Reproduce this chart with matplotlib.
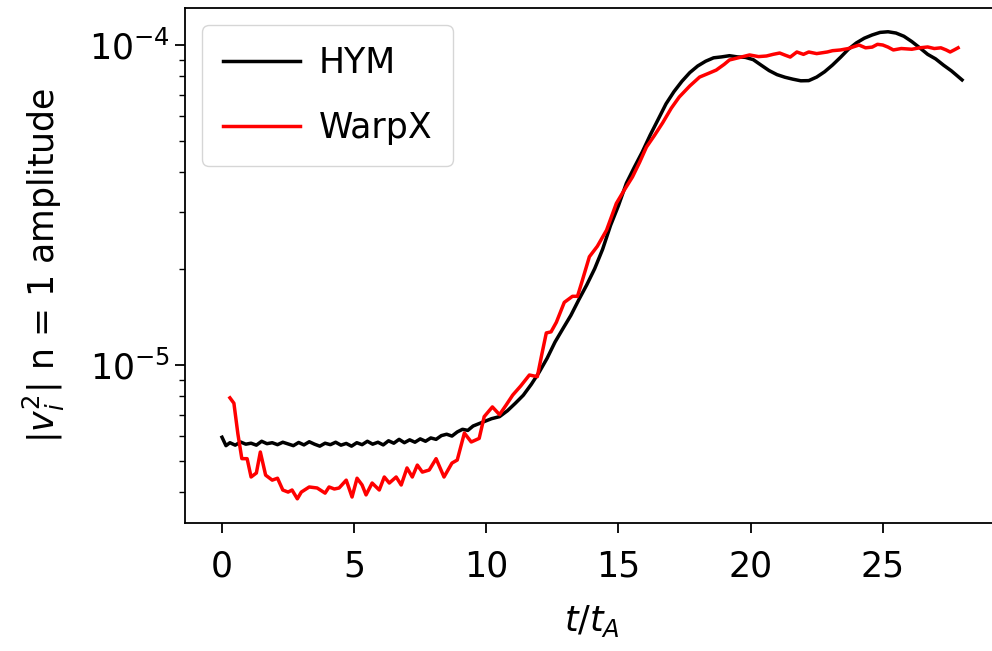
import numpy as np
import matplotlib
matplotlib.use("Agg")
import matplotlib.pyplot as plt

# amplitudes in units of 1e-6
t_hym = [0.0, 0.15, 0.3, 0.5, 0.7, 0.9, 1.1, 1.3, 1.5, 1.7, 1.9, 2.1, 2.3, 2.5, 2.7, 2.9,
         3.1, 3.3, 3.5, 3.7, 3.9, 4.1, 4.3, 4.5, 4.7, 4.9, 5.1, 5.3, 5.5, 5.7, 5.9, 6.1,
         6.3, 6.5, 6.7, 6.9, 7.1, 7.3, 7.5, 7.7, 7.9, 8.1, 8.3, 8.5, 8.7, 8.9, 9.1, 9.3,
         9.5, 9.7, 9.9, 10.2, 10.5, 10.8, 11.1, 11.4, 11.7, 12.0, 12.3, 12.6, 12.9, 13.2,
         13.5, 13.8, 14.1, 14.4, 14.7, 15.0, 15.3, 15.6, 15.9, 16.2, 16.5, 16.8, 17.1,
         17.4, 17.7, 18.0, 18.3, 18.6, 18.9, 19.2, 19.5, 19.8, 20.1, 20.4, 20.7, 21.0,
         21.3, 21.6, 21.9, 22.2, 22.5, 22.8, 23.1, 23.4, 23.7, 24.0, 24.3, 24.6, 24.9,
         25.2, 25.5, 25.8, 26.1, 26.4, 26.7, 27.0, 27.3, 27.6, 28.0]
amp_hym = [5.95, 5.60, 5.72, 5.62, 5.75, 5.66, 5.70, 5.62, 5.78, 5.68, 5.72, 5.64, 5.74,
           5.67, 5.60, 5.73, 5.63, 5.76, 5.66, 5.58, 5.70, 5.64, 5.74, 5.62, 5.69, 5.58,
           5.72, 5.64, 5.78, 5.66, 5.74, 5.63, 5.80, 5.70, 5.86, 5.72, 5.84, 5.74, 5.88,
           5.78, 5.92, 5.86, 6.02, 6.08, 6.00, 6.18, 6.30, 6.25, 6.45, 6.55, 6.65, 6.80,
           6.90, 7.20, 7.60, 8.05, 8.70, 9.50, 10.5, 11.8, 13.0, 14.3, 16.0, 17.8, 20.0,
           23.0, 27.3, 31.5, 37.0, 41.5, 46.3, 52.3, 58.5, 65.5, 71.5, 77.0, 82.0, 86.0,
           89.0, 91.2, 91.8, 92.6, 91.8, 91.5, 90.0, 86.5, 83.2, 80.8, 79.3, 78.2, 77.3,
           77.4, 79.4, 82.5, 86.6, 91.5, 97.0, 101.5, 105.0, 107.5, 109.5, 110.0, 109.0,
           106.5, 102.5, 98.0, 93.5, 90.5, 86.5, 83.0, 77.8]

t_warpx = [0.3, 0.45, 0.6, 0.75, 0.95, 1.1, 1.3, 1.45, 1.65, 1.9, 2.1, 2.3, 2.5, 2.65, 2.85,
           3.0, 3.3, 3.6, 3.9, 4.05, 4.25, 4.43, 4.7, 4.92, 5.11, 5.3, 5.45, 5.68, 5.95,
           6.14, 6.33, 6.59, 6.78, 7.0, 7.2, 7.39, 7.58, 7.84, 8.1, 8.4, 8.7, 8.9, 9.17,
           9.43, 9.73, 9.92, 10.23, 10.5, 10.75, 11.0, 11.3, 11.63, 11.93, 12.1, 12.27,
           12.45, 12.65, 12.95, 13.26, 13.45, 13.6, 13.9, 14.2, 14.55, 14.92, 15.2, 15.53,
           15.8, 16.06, 16.35, 16.67, 17.0, 17.3, 17.7, 18.07, 18.4, 18.7, 19.0, 19.2, 19.6,
           19.96, 20.3, 20.6, 20.85, 21.1, 21.3, 21.5, 21.75, 22.0, 22.2, 22.5, 22.9, 23.1,
           23.4, 23.7, 24.1, 24.35, 24.6, 24.8, 25.0, 25.2, 25.4, 25.7, 26.1, 26.4, 26.7,
           26.95, 27.2, 27.4, 27.55, 27.7, 27.85]
amp_warpx = [7.9, 7.6, 6.1, 5.1, 5.1, 4.47, 4.6, 5.35, 4.53, 4.37, 4.43, 4.07, 4.01, 4.07,
             3.82, 4.01, 4.16, 4.13, 3.98, 4.16, 4.10, 4.13, 4.37, 3.87, 4.43, 4.22, 3.93,
             4.28, 4.07, 4.47, 4.28, 4.47, 4.22, 4.77, 4.47, 4.87, 4.63, 4.70, 5.10, 4.47,
             4.94, 5.05, 6.13, 5.75, 5.90, 6.90, 7.40, 7.00, 7.50, 8.06, 8.60, 9.31, 9.20,
             10.8, 12.6, 12.7, 13.6, 15.7, 16.4, 16.4, 18.0, 21.8, 23.5, 26.4, 32.0, 35.0,
             38.7, 43.0, 48.0, 52.0, 57.1, 63.5, 68.8, 74.5, 79.4, 81.5, 83.5, 87.0, 89.8,
             91.5, 93.1, 92.0, 92.4, 93.5, 94.4, 93.0, 91.7, 95.1, 93.5, 95.1, 94.0, 95.1,
             96.0, 96.5, 97.5, 100.0, 98.0, 98.5, 100.5, 100.0, 98.5, 96.5, 97.5, 97.0,
             98.0, 98.6, 97.5, 98.0, 96.5, 95.1, 96.5, 98.0]

plt.rcParams['font.family'] = 'DejaVu Sans'
plt.rcParams['font.size'] = 25
plt.rcParams['mathtext.fontset'] = 'dejavusans'

fig = plt.figure(figsize=(9.92, 6.51), dpi=100)
ax = fig.add_axes([0.1865, 0.1966, 0.8206, 0.7911])

ax.plot(t_hym, np.array(amp_hym) * 1e-6, color='black', lw=2.5, label='HYM')
ax.plot(t_warpx, np.array(amp_warpx) * 1e-6, color='red', lw=2.5, label='WarpX')

ax.set_yscale('log')
ax.set_xlim(-1.4, 29.4)
ax.set_ylim(3.21e-6, 1.305e-4)
ax.set_xticks([0, 5, 10, 15, 20, 25])

ax.set_xlabel(r'$t/t_A$', labelpad=14)
ax.set_ylabel(r'$|v_i^2|$ n = 1 amplitude', labelpad=16)

for s in ax.spines.values():
    s.set_linewidth(1.3)
ax.tick_params(which='major', length=7, width=1.3, labelsize=25)
ax.tick_params(axis='x', which='major', pad=12)
ax.tick_params(which='minor', length=4, width=1.0)

ax.legend(loc='upper left', fontsize=25, handlelength=2.2, handletextpad=0.55,
          labelspacing=0.9, borderpad=0.6)

fig.savefig('out.png', dpi=100)
